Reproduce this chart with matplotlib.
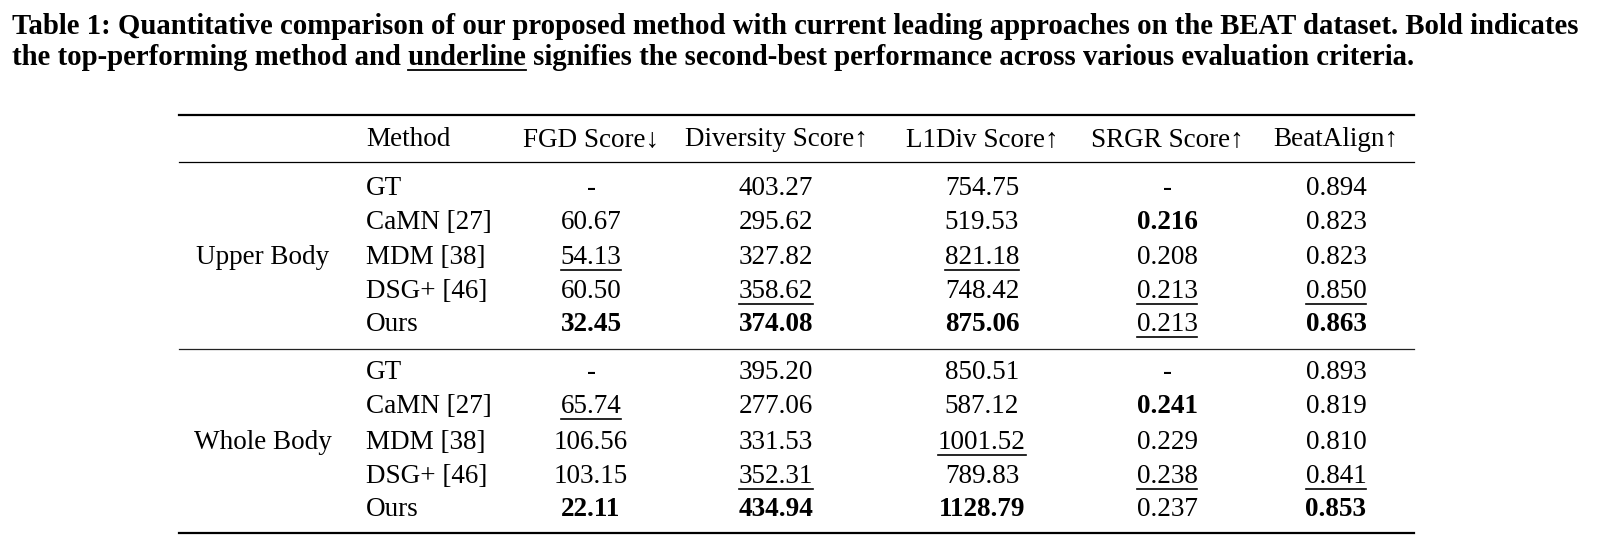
import matplotlib
matplotlib.use('Agg')
import matplotlib.pyplot as plt

FONT = ['Liberation Serif', 'DejaVu Serif']

caption_1 = ('Table 1: Quantitative comparison of our proposed method with current leading '
             'approaches on the BEAT dataset. Bold indicates')
caption_2 = ('the top-performing method and underline signifies the second-best '
             'performance across various evaluation criteria.')
caption_ul = 'underline'

headers = ['Method', 'FGD Score↓', 'Diversity Score↑', 'L1Div Score↑', 'SRGR Score↑', 'BeatAlign↑']
groups = ['Upper Body', 'Whole Body']
methods = ['GT', 'CaMN [27]', 'MDM [38]', 'DSG+ [46]', 'Ours']

# upper body columns
upper_fgd = ['-', '60.67', '54.13', '60.50', '32.45']
upper_div = ['403.27', '295.62', '327.82', '358.62', '374.08']
upper_l1 = ['754.75', '519.53', '821.18', '748.42', '875.06']
upper_srgr = ['-', '0.216', '0.208', '0.213', '0.213']
upper_beat = ['0.894', '0.823', '0.823', '0.850', '0.863']
upper_best = [4, 4, 4, 1, 4]
upper_second = [[2], [3], [2], [3, 4], [3]]

# whole body columns
whole_fgd = ['-', '65.74', '106.56', '103.15', '22.11']
whole_div = ['395.20', '277.06', '331.53', '352.31', '434.94']
whole_l1 = ['850.51', '587.12', '1001.52', '789.83', '1128.79']
whole_srgr = ['-', '0.241', '0.229', '0.238', '0.237']
whole_beat = ['0.893', '0.819', '0.810', '0.841', '0.853']
whole_best = [4, 4, 4, 1, 4]
whole_second = [[1], [3], [2], [3], [3]]

W, H = 1604, 555
fig = plt.figure(figsize=(W / 100, H / 100), dpi=100)
ax = fig.add_axes([0, 0, 1, 1])
ax.set_xlim(0, W)
ax.set_ylim(H, 0)
ax.axis('off')
fig.canvas.draw()
rend = fig.canvas.get_renderer()


def width_of(t):
    bb = t.get_window_extent(rend)
    return bb.x1 - bb.x0


def extent_x(t):
    bb = t.get_window_extent(rend)
    (x0, _), (x1, _) = ax.transData.inverted().transform([[bb.x0, bb.y0], [bb.x1, bb.y1]])
    return x0, x1


# ── caption, fitted to the reference width ──
cap_x = 12
cap_size = 18
t1 = ax.text(cap_x, 34, caption_1, fontsize=cap_size, fontweight='bold', family=FONT,
             ha='left', va='baseline')
w = width_of(t1)
cap_size = cap_size * 1568 / w
t1.set_fontsize(cap_size)
t2 = ax.text(cap_x, 65, caption_2, fontsize=cap_size, fontweight='bold', family=FONT,
             ha='left', va='baseline')
pre = caption_2[:caption_2.index(caption_ul) + len(caption_ul)]
tp = ax.text(0, 0, pre, fontsize=cap_size, fontweight='bold', family=FONT, alpha=0)
tu = ax.text(0, 0, caption_ul, fontsize=cap_size, fontweight='bold', family=FONT, alpha=0)
wp, wu = width_of(tp), width_of(tu)
ax.plot([cap_x + wp - wu, cap_x + wp], [70, 70], color='black', lw=1.3)

# ── table ──
FS = 19.5
x_left, x_right = 179, 1414
col_x = [591, 776, 982, 1167, 1336]
method_x = 366
group_x = 263

rule_top, rule_head, rule_mid, rule_bot = 114.6, 161.6, 348.5, 533
ax.plot([x_left, x_right], [rule_top, rule_top], color='black', lw=1.6)
ax.plot([x_left, x_right], [rule_head, rule_head], color='black', lw=0.9)
ax.plot([x_left, x_right], [rule_mid, rule_mid], color='#222222', lw=0.9)
ax.plot([x_left, x_right], [rule_bot, rule_bot], color='black', lw=1.6)

head_base = 146
ax.text(method_x, head_base, headers[0], fontsize=FS, family=FONT, ha='left', va='baseline')
for x, h in zip(col_x, headers[1:]):
    ax.text(x, head_base, h, fontsize=FS, family=FONT, ha='center', va='baseline')

group_cols = [
    [upper_fgd, upper_div, upper_l1, upper_srgr, upper_beat],
    [whole_fgd, whole_div, whole_l1, whole_srgr, whole_beat],
]
group_best = [upper_best, whole_best]
group_second = [upper_second, whole_second]
group_rows = [
    [195, 229, 264, 298, 331],
    [379, 413, 449, 483, 516],
]

for g, name in enumerate(groups):
    rows = group_rows[g]
    ax.text(group_x, rows[2], name, fontsize=FS, family=FONT, ha='center', va='baseline')
    for r, m in enumerate(methods):
        ax.text(method_x, rows[r], m, fontsize=FS, family=FONT, ha='left', va='baseline')
    for c, vals in enumerate(group_cols[g]):
        for r, v in enumerate(vals):
            bold = r == group_best[g][c]
            t = ax.text(col_x[c], rows[r], v, fontsize=FS, family=FONT, ha='center',
                        va='baseline', fontweight='bold' if bold else 'normal')
            if r in group_second[g][c]:
                x0, x1 = extent_x(t)
                ax.plot([x0, x1], [rows[r] + 5.5, rows[r] + 5.5], color='black', lw=1.2)

fig.savefig('out.png', dpi=100, facecolor='white')
